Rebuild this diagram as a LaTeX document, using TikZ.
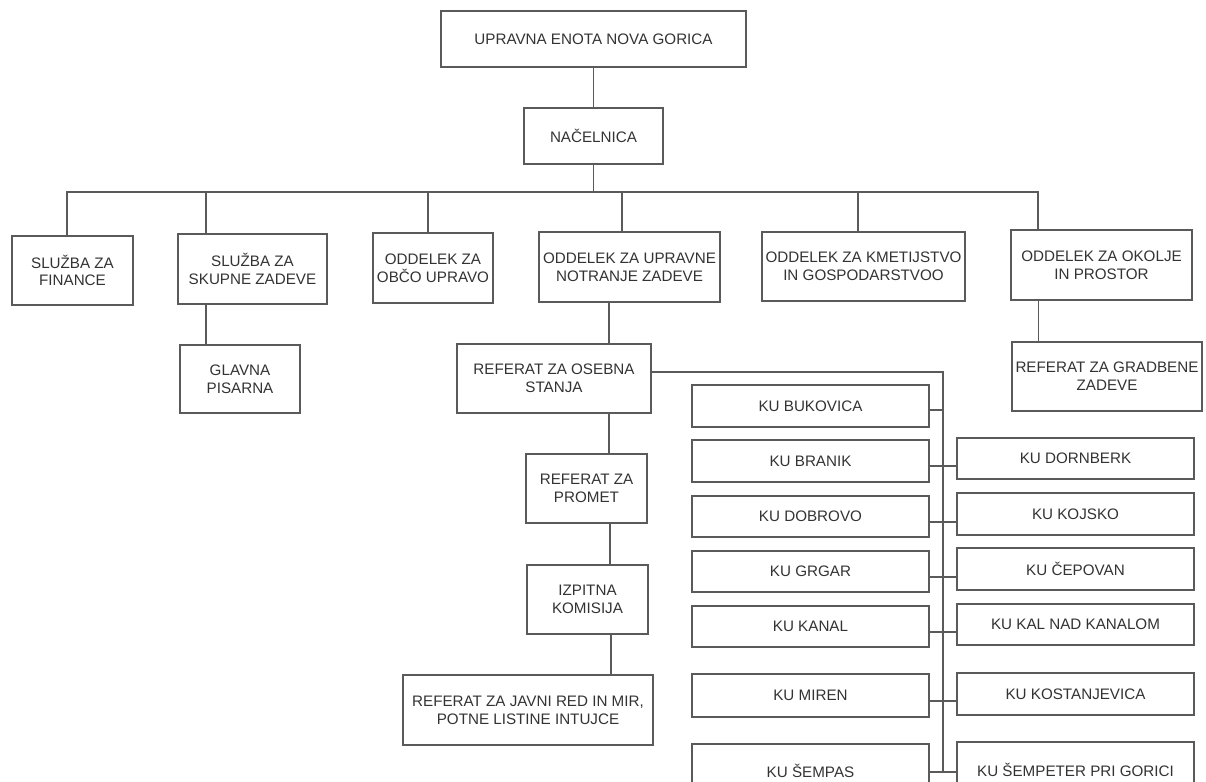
\documentclass[tikz,border=0pt]{standalone}
\usepackage{fontspec}
\setmainfont{Liberation Sans}
\definecolor{linegray}{HTML}{5A5A5A}
\definecolor{textgray}{HTML}{333333}
\begin{document}
\begin{tikzpicture}[x=0.5pt,y=-0.5pt,
  box/.style={draw=linegray, line width=0.65pt, text=textgray, inner sep=0pt,
    align=center, font=\fontsize{7.6}{8.9}\selectfont},
  conn/.style={draw=linegray, line width=0.6pt}]
\useasboundingbox (0,0) rectangle (1206,782);
\clip (0,0) rectangle (1206,782);
\fill[white] (0,0) rectangle (1206,782);
% level 0/1
\node[box, minimum width=152.5pt, minimum height=28pt] (top) at (593.5,39) {UPRAVNA ENOTA NOVA GORICA};
\node[box, minimum width=69.5pt, minimum height=28pt] (nac) at (593.5,136) {NAČELNICA};
% level 2
\node[box, minimum width=60.5pt, minimum height=34.5pt] (fin) at (72.5,270.5) {SLUŽBA ZA\\FINANCE};
\node[box, minimum width=74.5pt, minimum height=35pt] (sku) at (252.5,269) {SLUŽBA ZA\\SKUPNE ZADEVE};
\node[box, minimum width=60pt, minimum height=35pt] (obc) at (433,268) {ODDELEK ZA\\OBČO UPRAVO};
\node[box, minimum width=90.5pt, minimum height=35pt] (upr) at (629.5,267) {ODDELEK ZA UPRAVNE\\NOTRANJE ZADEVE};
\node[box, minimum width=101.5pt, minimum height=34.5pt] (kme) at (863.5,266.5) {ODDELEK ZA KMETIJSTVO\\IN GOSPODARSTVOO};
\node[box, minimum width=90.5pt, minimum height=35pt] (oko) at (1101.5,265) {ODDELEK ZA OKOLJE\\IN PROSTOR};
% level 3
\node[box, minimum width=60pt, minimum height=34pt] (gla) at (240,379) {GLAVNA\\PISARNA};
\node[box, minimum width=97pt, minimum height=34.5pt] (ose) at (554,378.5) {REFERAT ZA OSEBNA\\STANJA};
\node[box, minimum width=95pt, minimum height=34.5pt] (gra) at (1107,376.5) {REFERAT ZA GRADBENE\\ZADEVE};
\node[box, minimum width=60.5pt, minimum height=34.5pt] (pro) at (586.5,488.5) {REFERAT ZA\\PROMET};
\node[box, minimum width=60.5pt, minimum height=34.5pt] (izp) at (587.5,599.5) {IZPITNA\\KOMISIJA};
\node[box, minimum width=125pt, minimum height=35pt] (jav) at (528,710) {REFERAT ZA JAVNI RED IN MIR,\\POTNE LISTINE INTUJCE};
% KU left column
\node[box, minimum width=118.5pt, minimum height=21pt] (buk) at (810.5,406) {KU BUKOVICA};
\node[box, minimum width=118.5pt, minimum height=21pt] (bra) at (810.5,461) {KU BRANIK};
\node[box, minimum width=118.5pt, minimum height=20.5pt] (dob) at (810.5,516.5) {KU DOBROVO};
\node[box, minimum width=118.5pt, minimum height=20.5pt] (grg) at (810.5,571.5) {KU GRGAR};
\node[box, minimum width=118.5pt, minimum height=20.5pt] (kan) at (810.5,626.5) {KU KANAL};
\node[box, minimum width=118.5pt, minimum height=21.5pt] (mir) at (810.5,695.5) {KU MIREN};
\node[box, minimum width=118.5pt, minimum height=26.5pt] (sem) at (810.5,770.5) {KU ŠEMPAS};
% KU right column
\node[box, minimum width=118.5pt, minimum height=20.5pt] (dor) at (1075.5,458.5) {KU DORNBERK};
\node[box, minimum width=118.5pt, minimum height=21pt] (koj) at (1075.5,514) {KU KOJSKO};
\node[box, minimum width=118.5pt, minimum height=21pt] (cep) at (1075.5,569) {KU ČEPOVAN};
\node[box, minimum width=118.5pt, minimum height=20.5pt] (kal) at (1075.5,624.5) {KU KAL NAD KANALOM};
\node[box, minimum width=118.5pt, minimum height=21pt] (kos) at (1075.5,694) {KU KOSTANJEVICA};
\node[box, minimum width=118.5pt, minimum height=27.5pt] (sep) at (1075.5,769.5) {KU ŠEMPETER PRI GORICI};
% connectors
\coordinate (bus) at (593.5,192);
\coordinate (tt) at (943,372);
\coordinate (tb) at (943,772);
\draw[conn] (top) -- (nac);
\draw[conn] (nac) -- (bus);
\draw[conn] ([xshift=-2.75pt]fin.north) |- (bus);
\draw[conn] ([xshift=-23.25pt]sku.north) |- (bus);
\draw[conn] ([xshift=-2.5pt]obc.north) |- (bus);
\draw[conn] ([xshift=-3.75pt]upr.north) |- (bus);
\draw[conn] ([xshift=-2.75pt]kme.north) |- (bus);
\draw[conn] ([xshift=-31.75pt]oko.north) |- (bus);
\draw[conn] ([xshift=-23.25pt]sku.south) -- ([xshift=-17pt]gla.north);
\draw[conn] ([xshift=-10.25pt]upr.south) -- ([xshift=27.5pt]ose.north);
\draw[conn] ([xshift=27.5pt]ose.south) -- ([xshift=11.25pt]pro.north);
\draw[conn] ([xshift=11.75pt]pro.south) -- ([xshift=11.25pt]izp.north);
\draw[conn] ([xshift=11.75pt]izp.south) -- ([xshift=41.5pt]jav.north);
\draw[conn] ([xshift=-31.5pt]oko.south) -- ([xshift=-34.25pt]gra.north);
\draw[conn] ([yshift=3.25pt]ose.east) -- (tt) -- (tb);
\draw[conn] ([yshift=-2pt]buk.east) -- ++(7pt,0);
\draw[conn] ([yshift=-2.5pt]bra.east) -- ([yshift=-3.75pt]dor.west);
\draw[conn] ([yshift=-2.75pt]dob.east) -- ([yshift=-4pt]koj.west);
\draw[conn] ([yshift=-2.75pt]grg.east) -- ([yshift=-4pt]cep.west);
\draw[conn] ([yshift=-2.75pt]kan.east) -- ([yshift=-3.75pt]kal.west);
\draw[conn] ([yshift=-2.75pt]mir.east) -- ([yshift=-3.5pt]kos.west);
\draw[conn] ([yshift=-0.75pt]sem.east) -- ([yshift=-1.25pt]sep.west);
\end{tikzpicture}
\end{document}
